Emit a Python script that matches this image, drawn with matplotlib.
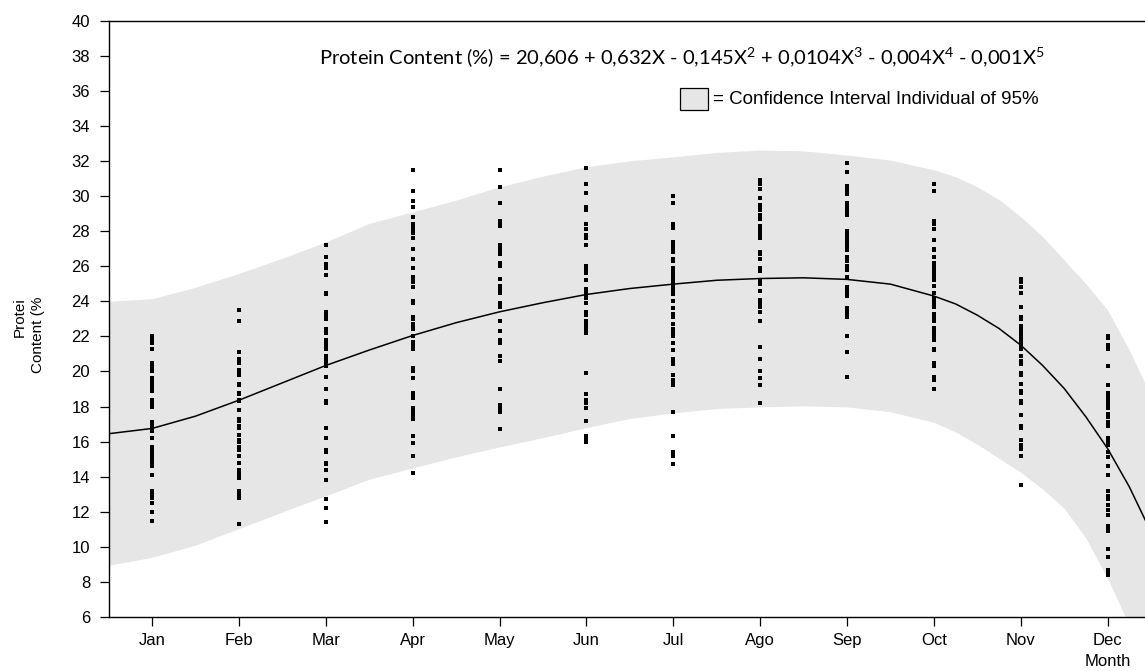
import matplotlib
matplotlib.use("Agg")
import matplotlib.pyplot as plt
from matplotlib.patches import Rectangle

plt.rcParams['font.family'] = ['Liberation Sans', 'DejaVu Sans']
plt.rcParams['mathtext.fontset'] = 'custom'
plt.rcParams['mathtext.rm'] = 'Lato'
plt.rcParams['mathtext.it'] = 'Lato'

months = ["Jan", "Feb", "Mar", "Apr", "May", "Jun", "Jul", "Ago", "Sep", "Oct", "Nov", "Dec"]
y_ticks = list(range(6, 41, 2))

# Observed protein content (%) per month
jan = [22.0, 21.9, 21.8, 21.7, 21.6, 21.3, 20.5, 20.4, 20.2, 20.0, 19.6, 19.4, 19.3, 19.1,
       18.9, 18.4, 18.2, 18.0, 17.1, 16.9, 16.8, 16.7, 16.6, 16.2, 15.7, 15.6, 15.5, 15.4,
       15.3, 15.1, 14.9, 14.7, 14.6, 14.1, 13.2, 13.0, 12.8, 12.5, 12.0, 11.5]
feb = [23.5, 22.9, 21.1, 20.7, 20.6, 20.5, 20.1, 19.9, 19.8, 19.3, 19.2, 18.8, 18.7, 18.4,
       18.3, 17.8, 17.3, 17.2, 16.9, 16.8, 16.4, 16.1, 16.0, 15.7, 15.5, 15.2, 14.8, 14.4,
       14.2, 14.0, 13.9, 13.2, 13.0, 12.9, 12.8, 11.3]
mar = [27.2, 26.5, 26.1, 25.9, 25.5, 24.5, 24.4, 23.4, 23.2, 23.0, 22.4, 22.2, 21.8, 21.6,
       21.4, 21.3, 20.9, 20.7, 20.6, 20.4, 20.3, 19.7, 19.0, 18.3, 18.2, 16.8, 16.2, 15.5,
       15.4, 14.8, 14.7, 14.4, 13.8, 12.7, 12.2, 11.4]
apr = [31.5, 30.3, 29.7, 29.4, 28.8, 28.4, 28.2, 28.0, 27.9, 27.6, 27.0, 26.4, 25.9, 25.4,
       25.2, 25.1, 24.8, 24.0, 23.9, 23.1, 23.0, 22.7, 22.6, 22.4, 22.0, 21.7, 21.5, 21.3,
       20.2, 20.0, 19.6, 18.8, 18.7, 18.5, 17.9, 17.8, 17.6, 17.4, 17.3, 16.3, 15.9, 15.2,
       14.2]
may = [31.5, 30.5, 29.6, 28.6, 28.4, 28.3, 27.2, 27.0, 26.8, 26.7, 26.2, 26.0, 25.3, 24.9,
       24.7, 24.5, 23.9, 23.7, 22.9, 22.3, 21.8, 21.6, 20.9, 20.6, 19.0, 18.1, 17.9, 17.7,
       16.7]
jun = [31.6, 30.7, 30.2, 29.4, 29.2, 28.4, 28.1, 27.8, 27.6, 27.2, 26.0, 25.8, 25.6, 25.2,
       24.7, 24.5, 24.4, 24.2, 23.9, 23.4, 23.2, 22.9, 22.7, 22.6, 22.4, 22.2, 19.9, 18.7,
       18.4, 18.2, 17.9, 17.2, 16.3, 16.1, 16.0]
jul = [30.0, 29.6, 28.4, 28.2, 27.4, 27.2, 27.0, 26.8, 26.4, 26.3, 25.9, 25.7, 25.5, 25.3,
       25.1, 24.9, 24.7, 24.5, 24.4, 24.0, 23.6, 23.3, 23.1, 22.7, 22.4, 22.2, 22.0, 21.6,
       21.2, 20.7, 20.6, 20.4, 19.8, 19.5, 19.3, 19.2, 17.7, 16.3, 15.4, 15.2, 14.7]
ago = [30.9, 30.7, 30.4, 29.9, 29.5, 29.3, 29.2, 28.9, 28.7, 28.3, 28.1, 27.9, 27.7, 27.6,
       26.8, 26.7, 26.4, 25.9, 25.7, 25.2, 25.0, 24.6, 24.1, 23.9, 23.7, 23.4, 22.9, 21.4,
       20.7, 20.0, 19.6, 19.2, 18.2]
sep = [31.9, 31.4, 30.6, 30.4, 30.3, 30.1, 29.6, 29.4, 29.2, 29.0, 28.9, 28.0, 27.8, 27.6,
       27.4, 27.2, 27.0, 26.9, 26.5, 26.3, 26.0, 25.8, 25.4, 24.8, 24.6, 24.5, 24.3, 23.6,
       23.4, 23.2, 23.1, 22.0, 21.1, 19.7]
oct_ = [30.7, 30.3, 28.6, 28.4, 28.1, 27.5, 27.0, 26.9, 26.5, 26.2, 26.0, 25.8, 25.6, 25.4,
        25.2, 24.9, 24.5, 24.2, 24.0, 23.8, 23.7, 23.3, 23.1, 22.9, 22.5, 22.3, 22.1, 21.9,
        21.8, 21.3, 21.2, 20.5, 20.4, 20.3, 19.7, 19.5, 19.0]
nov = [25.3, 25.1, 24.8, 24.5, 23.7, 23.1, 23.0, 22.6, 22.5, 22.3, 22.1, 21.9, 21.7, 21.5,
       21.3, 20.9, 20.6, 20.4, 19.9, 19.8, 19.3, 18.9, 18.8, 18.3, 18.2, 17.5, 16.9, 16.8,
       16.1, 15.8, 15.6, 15.2, 13.5]
dec = [22.0, 21.9, 21.5, 21.3, 20.3, 19.2, 18.8, 18.7, 18.5, 18.3, 18.1, 17.9, 17.6, 17.4,
       17.1, 16.9, 16.2, 16.0, 15.8, 15.4, 15.1, 14.6, 14.1, 13.2, 12.9, 12.7, 12.4, 12.1,
       11.8, 11.2, 11.0, 10.9, 9.9, 9.4, 8.7, 8.6, 8.4]
observations = [jan, feb, mar, apr, may, jun, jul, ago, sep, oct_, nov, dec]

# Fitted curve and 95% individual confidence band (month index on x)
fit_x = [0.5, 1.0, 1.5, 2.0, 2.5, 3.0, 3.5, 4.0, 4.5, 5.0, 5.5, 6.0, 6.5, 7.0, 7.5, 8.0,
         8.5, 9.0, 9.5, 10.0, 10.25, 10.5, 10.75, 11.0, 11.25, 11.5, 11.75, 12.0, 12.25,
         12.45]
fit_y = [16.45, 16.75, 17.45, 18.36, 19.35, 20.34, 21.22, 22.05, 22.78, 23.4, 23.92, 24.39,
         24.73, 24.98, 25.2, 25.3, 25.34, 25.25, 24.98, 24.3, 23.85, 23.21, 22.45, 21.5,
         20.35, 19.03, 17.41, 15.6, 13.42, 11.35]
band_hi = [24.0, 24.15, 24.8, 25.59, 26.45, 27.39, 28.44, 29.1, 29.77, 30.53, 31.14, 31.67,
           32.01, 32.24, 32.49, 32.62, 32.58, 32.34, 32.05, 31.5, 31.1, 30.53, 29.8, 28.82,
           27.7, 26.35, 25.0, 23.5, 21.22, 19.1]
band_lo = [8.95, 9.4, 10.1, 11.04, 11.99, 12.91, 13.86, 14.5, 15.13, 15.7, 16.23, 16.8,
           17.32, 17.64, 17.89, 17.98, 18.04, 17.98, 17.7, 17.1, 16.55, 15.85, 15.05, 14.25,
           13.3, 12.2, 10.5, 8.2, 5.5, 3.3]

fig = plt.figure(figsize=(11.45, 6.71), dpi=100)
ax = fig.add_axes([109 / 1145, 1 - 617 / 671, 1 - 109 / 1145, (617 - 20.7) / 671])

ax.fill_between(fit_x, band_lo, band_hi, color="#e6e6e6", linewidth=0, zorder=1)
ax.plot(fit_x, fit_y, color="black", linewidth=1.1, zorder=3)

for i, vals in enumerate(observations):
    ax.scatter([i + 1] * len(vals), vals, marker="s", s=6, color="black",
               linewidths=0, zorder=4)

ax.set_xlim(0.505, 12.43)
ax.set_ylim(6, 40)
ax.set_xticks(range(1, 13))
ax.set_xticklabels(months)
ax.set_yticks(y_ticks)
ax.tick_params(axis="both", direction="out", length=6.5, width=0.9, colors="black",
               labelsize=12)
ax.tick_params(axis="y", pad=7)
ax.tick_params(axis="x", pad=5)
for side in ("left", "bottom", "top"):
    ax.spines[side].set_linewidth(1.0)
    ax.spines[side].set_color("black")
ax.spines["right"].set_visible(False)

fig.text(29 / 1145, 1 - 335 / 671, "Protei\nContent (%", rotation=90, ha="center",
         va="center", multialignment="right", fontsize=11, linespacing=1.45)
fig.text(1108 / 1145, 1 - 662 / 671, "Month", ha="center", va="center", fontsize=12)

equation = ("Protein Content (%) = 20,606 + 0,632X - 0,145X$^{2}$ + 0,0104X$^{3}$"
            " - 0,004X$^{4}$ - 0,001X$^{5}$")
fig.text(1045 / 1145, 1 - 57 / 671, equation, ha="right", va="center",
         fontsize=14.5, family=["Lato", "DejaVu Sans"])

fig.patches.append(Rectangle((680 / 1145, 1 - 110 / 671), 28 / 1145, 22 / 671,
                             transform=fig.transFigure, facecolor="#e6e6e6",
                             edgecolor="black", linewidth=0.9))
fig.text(713 / 1145, 1 - 100 / 671, "= Confidence Interval Individual of 95%",
         ha="left", va="center", fontsize=13.5, family=["Liberation Sans"])

fig.savefig("out.png", dpi=100)
